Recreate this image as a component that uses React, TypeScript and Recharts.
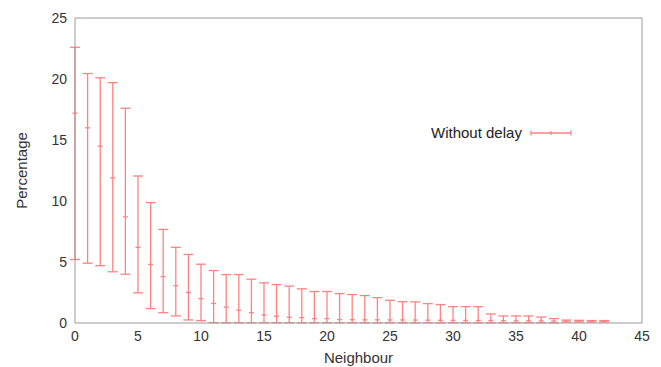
import React from 'react'
import { ComposedChart, Scatter, ErrorBar, XAxis, YAxis, Label } from 'recharts'

// neighbour index 0..42
const neighbours = [
  0, 1, 2, 3, 4, 5, 6, 7, 8, 9, 10, 11, 12, 13, 14, 15, 16, 17, 18, 19, 20, 21,
  22, 23, 24, 25, 26, 27, 28, 29, 30, 31, 32, 33, 34, 35, 36, 37, 38, 39, 40, 41, 42,
]

const means = [
  17.2, 16.0, 14.5, 11.9, 8.7, 6.2, 4.8, 3.8, 3.05, 2.5, 2.0, 1.6, 1.3, 1.05, 0.85, 0.66, 0.55,
  0.47, 0.44, 0.36, 0.36, 0.28, 0.27, 0.26, 0.26, 0.25, 0.25, 0.24, 0.23, 0.22, 0.22, 0.21, 0.2,
  0.2, 0.19, 0.18, 0.18, 0.17, 0.16, 0.15, 0.15, 0.14, 0.14,
]

const highs = [
  22.6, 20.45, 20.1, 19.7, 17.6, 12.05, 9.87, 7.67, 6.2, 5.62, 4.82, 4.3, 3.97, 3.97, 3.59, 3.29,
  3.15, 3.02, 2.8, 2.58, 2.58, 2.41, 2.33, 2.25, 2.08, 1.86, 1.75, 1.73, 1.59, 1.51, 1.34, 1.34,
  1.34, 0.74, 0.58, 0.58, 0.58, 0.49, 0.36, 0.24, 0.22, 0.2, 0.2,
]

const lows = [
  5.2, 4.9, 4.7, 4.2, 4.0, 2.47, 1.18, 0.85, 0.58, 0.25, 0.2, 0.03, 0.02, 0.02, 0.02, 0.02, 0.02,
  0.02, 0.02, 0.02, 0.02, 0.02, 0.02, 0.02, 0.02, 0.02, 0.02, 0.02, 0.02, 0.02, 0.02, 0.02, 0.02,
  0.02, 0.02, 0.02, 0.02, 0.02, 0.02, 0.08, 0.08, 0.08, 0.08,
]

const xTicks = [0, 5, 10, 15, 20, 25, 30, 35, 40, 45]
const yTicks = [0, 5, 10, 15, 20, 25]

const data = neighbours.map((x, i) => ({
  x,
  mean: means[i],
  err: [means[i] - lows[i], highs[i] - means[i]],
}))

const RED = '#ff8282'
const FRAME = '#9a9a9a'
const FONT = '"Liberation Sans", Arial, sans-serif'
const tickStyle = { fill: '#333', fontSize: 14, fontFamily: FONT }
const titleStyle = { fill: '#333', fontSize: 15, fontFamily: FONT }

// small horizontal dash at the mean
const MeanMark = (props: any) => {
  const { cx, cy } = props
  if (cx == null || cy == null) return null
  return <line x1={cx - 2.5} x2={cx + 2.5} y1={cy} y2={cy} stroke={RED} strokeWidth={1.3} />
}

// key drawn over the plot, gnuplot style
const LegendKey = () => (
  <div
    style={{
      position: 'absolute',
      left: 431,
      top: 124,
      display: 'flex',
      alignItems: 'center',
      fontFamily: FONT,
      fontSize: 15,
      color: '#222',
    }}
  >
    <span>Without delay</span>
    <svg width={44} height={10} style={{ marginLeft: 8 }}>
      <line x1={1} x2={41} y1={5} y2={5} stroke={RED} strokeWidth={1.3} />
      <line x1={1} x2={1} y1={2.5} y2={7.5} stroke={RED} strokeWidth={1.3} />
      <line x1={41} x2={41} y1={2.5} y2={7.5} stroke={RED} strokeWidth={1.3} />
      <line x1={21} x2={21} y1={3} y2={7} stroke={RED} strokeWidth={1.3} />
    </svg>
  </div>
)

export default function App() {
  return (
    <div style={{ position: 'absolute', left: 0, top: 0, width: 661, height: 367, background: '#fff' }}>
      <ComposedChart width={661} height={367} data={data} margin={{ top: 18, right: 19, bottom: 0, left: 0 }}>
        <XAxis
          xAxisId="main"
          dataKey="x"
          type="number"
          domain={[0, 45]}
          ticks={xTicks}
          height={44}
          tickSize={0}
          tickMargin={8}
          tickLine={false}
          axisLine={{ stroke: FRAME }}
          tick={tickStyle}
        >
          <Label value="Neighbour" position="insideBottom" offset={4} style={titleStyle} />
        </XAxis>
        <XAxis
          xAxisId="bottomTicks"
          type="number"
          domain={[0, 45]}
          ticks={xTicks}
          orientation="bottom"
          mirror
          tick={false}
          tickSize={4}
          axisLine={false}
          tickLine={{ stroke: FRAME }}
        />
        <XAxis
          xAxisId="top"
          type="number"
          domain={[0, 45]}
          ticks={xTicks}
          orientation="top"
          mirror
          tick={false}
          tickSize={4}
          axisLine={{ stroke: FRAME }}
          tickLine={{ stroke: FRAME }}
        />
        <YAxis
          yAxisId="main"
          type="number"
          domain={[0, 25]}
          ticks={yTicks}
          width={75}
          tickSize={0}
          tickMargin={8}
          tickLine={false}
          axisLine={{ stroke: FRAME }}
          tick={tickStyle}
        >
          <Label
            value="Percentage"
            angle={-90}
            position="insideLeft"
            offset={22}
            style={{ ...titleStyle, textAnchor: 'middle' }}
          />
        </YAxis>
        <YAxis
          yAxisId="leftTicks"
          type="number"
          domain={[0, 25]}
          ticks={yTicks}
          orientation="left"
          mirror
          tick={false}
          tickSize={4}
          axisLine={false}
          tickLine={{ stroke: FRAME }}
        />
        <YAxis
          yAxisId="right"
          type="number"
          domain={[0, 25]}
          ticks={yTicks}
          orientation="right"
          mirror
          tick={false}
          tickSize={4}
          axisLine={{ stroke: FRAME }}
          tickLine={{ stroke: FRAME }}
        />
        <Scatter
          xAxisId="main"
          yAxisId="main"
          dataKey="mean"
          name="Without delay"
          shape={<MeanMark />}
          isAnimationActive={false}
        >
          <ErrorBar dataKey="err" direction="y" width={5} stroke={RED} strokeWidth={1.3} isAnimationActive={false} />
        </Scatter>
      </ComposedChart>
      <LegendKey />
    </div>
  )
}
